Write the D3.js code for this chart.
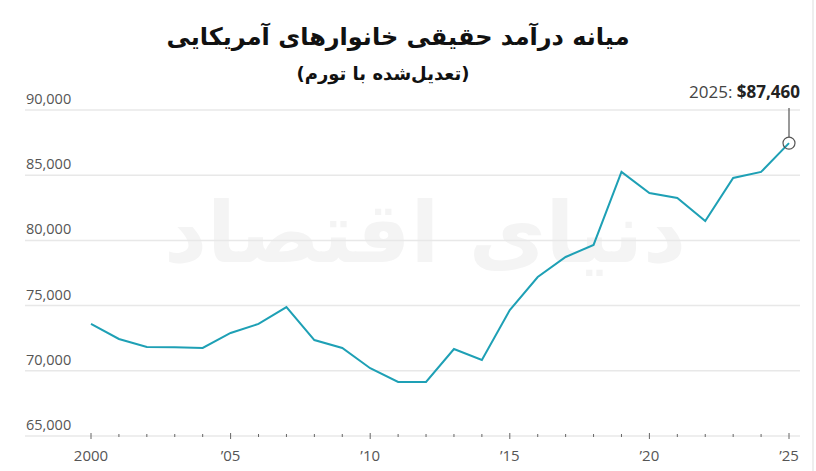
<!DOCTYPE html>
<html><head><meta charset="utf-8">
<script src="https://cdn.jsdelivr.net/npm/d3@7"></script>
<style>body{margin:0;background:#fff}svg{display:block}</style>
</head><body>
<svg id="c" width="816" height="471"></svg>
<script>
const years = [2000,2001,2002,2003,2004,2005,2006,2007,2008,2009,2010,2011,2012,2013,2014,2015,2016,2017,2018,2019,2020,2021,2022,2023,2024,2025];
const income = [73600,72440,71820,71800,71750,72900,73600,74890,72360,71750,70200,69140,69140,71670,70830,74660,77190,78730,79650,85250,83630,83250,81490,84790,85250,87460];
const yTicks = [65000,70000,75000,80000,85000,90000];
const xTickLabels = [[2000,"2000"],[2005,"’05"],[2010,"’10"],[2015,"’15"],[2020,"’20"],[2025,"’25"]];
const title = "میانه درآمد حقیقی خانوارهای آمریکایی";
const subtitle = "(تعدیل‌شده با تورم)";

const svg = d3.select("#c");
const x = d3.scaleLinear().domain([2000,2025]).range([91,789]);
const y = d3.scaleLinear().domain([65000,90000]).range([436,110]);
const numFont = "'Open Sans', 'Noto Sans', sans-serif";

// watermark
svg.append("text").attr("x",425).attr("y",262).attr("text-anchor","middle")
  .attr("font-family","DejaVu Sans").attr("font-weight","bold").attr("font-size",84)
  .attr("fill","#f4f4f4").attr("direction","rtl").text("دنیای اقتصاد");

// gridlines
svg.append("g").selectAll("line").data(yTicks).join("line")
  .attr("x1",25).attr("x2",800).attr("y1",d=>y(d)).attr("y2",d=>y(d))
  .attr("stroke","#e8e8e8").attr("stroke-width",1.5);
svg.append("g").selectAll("text").data(yTicks).join("text")
  .attr("x",26).attr("y",d=>y(d)-6).attr("font-family",numFont).attr("font-size",14.5)
  .attr("fill","#555").text(d=>d3.format(",")(d));

// x axis ticks
const xa = svg.append("g").attr("transform",`translate(0,${y(65000)})`)
  .call(d3.axisBottom(x).tickValues(years).tickSize(0).tickFormat(""));
xa.select(".domain").remove();
svg.append("g").selectAll("line").data(years).join("line")
  .attr("x1",d=>x(d)).attr("x2",d=>x(d))
  .attr("y1",d=>y(65000)-(d%5===0?3:2)).attr("y2",d=>y(65000)+(d%5===0?3:1))
  .attr("stroke","#666").attr("stroke-width",1);
svg.append("g").selectAll("text").data(xTickLabels).join("text")
  .attr("x",d=>x(d[0])).attr("y",461).attr("text-anchor","middle")
  .attr("font-family",numFont).attr("font-size",15).attr("fill","#555").text(d=>d[1]);

// line
svg.append("path").datum(years.map((yr,i)=>[yr,income[i]]))
  .attr("fill","none").attr("stroke","#1ea0b5").attr("stroke-width",2)
  .attr("stroke-linejoin","miter")
  .attr("d",d3.line().x(d=>x(d[0])).y(d=>y(d[1])));

// annotation
const lx = x(2025), ly = y(87460);
svg.append("circle").attr("cx",lx).attr("cy",ly).attr("r",6)
  .attr("fill","none").attr("stroke","#555").attr("stroke-width",1.2);
svg.append("line").attr("x1",lx).attr("x2",lx).attr("y1",108).attr("y2",ly-6)
  .attr("stroke","#555").attr("stroke-width",1.2);
const ann = svg.append("text").attr("x",800).attr("y",98).attr("text-anchor","end")
  .attr("font-family",numFont).attr("font-size",17).attr("fill","#444");
ann.append("tspan").text("2025: ");
ann.append("tspan").attr("font-weight","bold").attr("fill","#222").text("$"+d3.format(",")(87460));

// right border
svg.append("line").attr("x1",813).attr("x2",813).attr("y1",0).attr("y2",471)
  .attr("stroke","#ddd").attr("stroke-width",1);

// titles
svg.append("text").attr("x",398).attr("y",45).attr("text-anchor","middle")
  .attr("direction","rtl").attr("font-family","DejaVu Sans").attr("font-weight","bold")
  .attr("font-size",24).attr("fill","#111").text(title);
svg.append("text").attr("x",383).attr("y",80).attr("text-anchor","middle")
  .attr("direction","rtl").attr("font-family","DejaVu Sans").attr("font-weight","bold")
  .attr("font-size",18).attr("fill","#111").text(subtitle);
</script>
</body></html>
